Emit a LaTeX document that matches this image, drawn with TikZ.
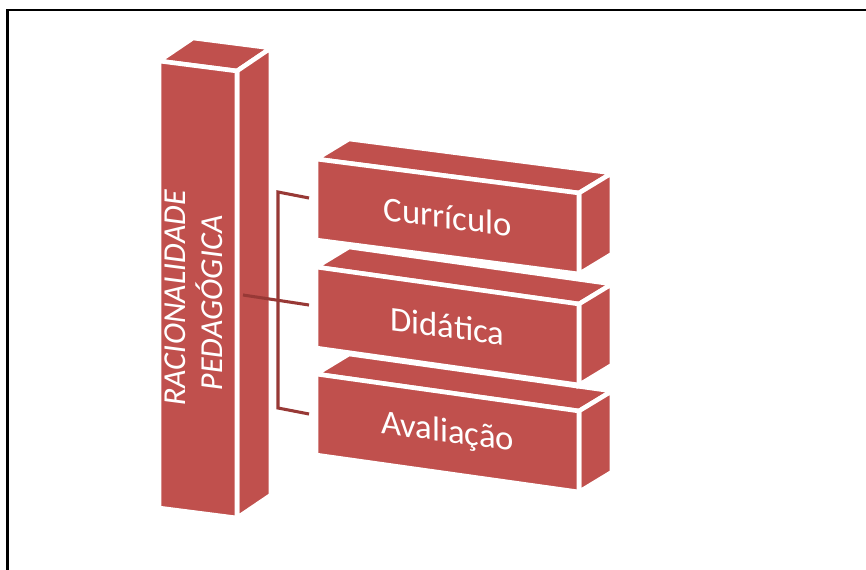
\documentclass[tikz,border=0pt]{standalone}
\usepackage{fontspec}
\setmainfont{Carlito}
\usetikzlibrary{calc}
\definecolor{blockred}{HTML}{C0504D}
\definecolor{linkred}{HTML}{983936}
\tikzset{
  face/.style={fill=blockred, draw=white, line width=3.4pt, line join=miter},
  link/.style={draw=linkred, line width=2.3pt},
  lbl/.style={text=white, font=\fontsize{26}{30}\selectfont, inner sep=0pt, yslant=-0.13},
  pillarlbl/.style={text=white, font=\fontsize{24}{28}\selectfont, align=center, inner sep=0pt, yslant=-0.13, rotate=90},
  frame/.style={draw=black, line width=1.6pt},
}
% x y w h skew dx dy name
\newcommand{\drawblock}[8]{%
  \coordinate (#8-a) at (#1,#2);
  \coordinate (#8-b) at ($(#8-a)+(#3,#5)$);
  \coordinate (#8-c) at ($(#8-b)+(0,#4)$);
  \coordinate (#8-d) at ($(#8-a)+(0,#4)$);
  \path[face] (#8-a) -- (#8-b) -- ($(#8-b)+(#6,#7)$) -- ($(#8-a)+(#6,#7)$) -- cycle;
  \path[face] (#8-b) -- ($(#8-b)+(#6,#7)$) -- ($(#8-c)+(#6,#7)$) -- (#8-c) -- cycle;
  \path[face] (#8-a) -- (#8-b) -- (#8-c) -- (#8-d) -- cycle;
}
\begin{document}
\begin{tikzpicture}[x=0.75pt,y=-0.75pt]
\useasboundingbox (0,0) rectangle (866,570);
\clip (0,0) rectangle (866,570);
\fill[white] (0,0) rectangle (866,570);
\draw[frame] (7.5,10) rectangle (900,600);

% pillar
\drawblock{159}{61}{78}{447}{10}{34}{-23}{pil}
\node[pillarlbl] (pillar) at (194,300) {RACIONALIDADE\\PEDAGÓGICA};

% boxes (lower first)
\drawblock{316}{374}{263}{81}{37}{33}{-20}{ava}
\node[lbl] (aval) at ($(ava-a)!0.5!(ava-c)$) {Avaliação};
\drawblock{316}{267}{263}{81}{37}{33}{-20}{did}
\node[lbl] (dida) at ($(did-a)!0.5!(did-c)$) {Didática};
\drawblock{316}{159}{263}{81}{34}{33}{-20}{cur}
\node[lbl] (curr) at ($(cur-a)!0.5!(cur-c)$) {Currículo};

% connectors
\coordinate (pil-port) at (243,295);
\coordinate (br-top) at (278,192);
\coordinate (br-bot) at (278,408);
\coordinate (cur-port) at (309,198);
\coordinate (did-port) at (309,305);
\coordinate (ava-port) at (309,414);
\draw[link] (cur-port) -- (br-top) -- (br-bot) -- (ava-port);
\draw[link] (pil-port) -- (did-port);
\end{tikzpicture}
\end{document}
